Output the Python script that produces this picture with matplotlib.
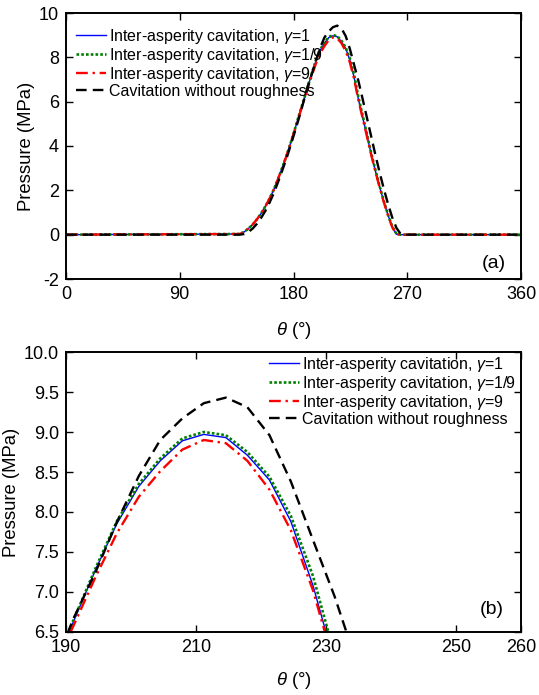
import matplotlib
matplotlib.use("Agg")
import matplotlib.pyplot as plt
from matplotlib.ticker import FormatStrFormatter

plt.rcParams['font.family'] = ['Liberation Sans', 'DejaVu Sans']
plt.rcParams['mathtext.fontset'] = 'custom'
plt.rcParams['mathtext.rm'] = 'Liberation Sans'
plt.rcParams['mathtext.it'] = 'Liberation Sans:italic'
plt.rcParams['axes.unicode_minus'] = False

# ---- data ----
theta = [0, 137.5, 140.9, 144.2, 147.6, 150.9, 154.3, 157.6, 161.0, 164.3, 167.7,
         171.0, 174.4, 177.7, 181.1, 184.4, 187.8, 191.1, 194.5, 197.8, 201.2,
         204.5, 207.9, 211.2, 214.6, 217.9, 221.3, 224.6, 228.0, 231.3, 234.7,
         238.0, 241.4, 244.7, 248.1, 251.4, 254.8, 258.1, 261.5, 264.8, 268.2, 360]

p_gamma1 = [0, 0.03, 0.12, 0.27, 0.45, 0.68, 0.95, 1.26, 1.62, 2.02, 2.50,
            3.00, 3.55, 4.13, 4.75, 5.38, 6.00, 6.62, 7.27, 7.85, 8.32,
            8.64, 8.89, 8.97, 8.93, 8.71, 8.40, 7.88, 7.08, 6.12, 5.30,
            4.50, 3.65, 2.90, 2.17, 1.50, 0.88, 0.35, 0.02, 0, 0, 0]

p_gamma1_9 = [0, 0.03, 0.12, 0.27, 0.45, 0.68, 0.95, 1.26, 1.62, 2.02, 2.50,
              3.00, 3.55, 4.13, 4.76, 5.40, 6.02, 6.64, 7.29, 7.88, 8.35,
              8.67, 8.92, 9.00, 8.96, 8.75, 8.44, 7.95, 7.20, 6.22, 5.38,
              4.56, 3.70, 2.94, 2.20, 1.52, 0.90, 0.37, 0.03, 0, 0, 0]

p_gamma9 = [0, 0.03, 0.12, 0.27, 0.45, 0.68, 0.95, 1.26, 1.62, 2.02, 2.50,
            3.00, 3.55, 4.12, 4.73, 5.35, 5.98, 6.57, 7.18, 7.73, 8.19,
            8.51, 8.78, 8.90, 8.86, 8.64, 8.28, 7.77, 7.02, 6.08, 5.26,
            4.46, 3.62, 2.87, 2.14, 1.48, 0.86, 0.34, 0.02, 0, 0, 0]

p_smooth = [0, 0, 0.03, 0.12, 0.27, 0.48, 0.75, 1.06, 1.44, 1.86, 2.36,
            2.88, 3.43, 4.02, 4.65, 5.28, 5.97, 6.66, 7.24, 7.87, 8.45,
            8.90, 9.17, 9.36, 9.43, 9.31, 8.96, 8.38, 7.65, 6.95, 6.12,
            5.30, 4.45, 3.62, 2.82, 2.08, 1.38, 0.78, 0.30, 0.03, 0, 0]

labels = ["Inter-asperity cavitation, $\\gamma$=1",
          "Inter-asperity cavitation, $\\gamma$=1/9",
          "Inter-asperity cavitation, $\\gamma$=9",
          "Cavitation without roughness"]

xticks_a = [0, 90, 180, 270, 360]
yticks_a = [-2, 0, 2, 4, 6, 8, 10]
xticks_b = [190, 210, 230, 250, 260]
yticks_b = [6.5, 7.0, 7.5, 8.0, 8.5, 9.0, 9.5, 10.0]

# ---- figure ----
W, H = 539, 695
fig = plt.figure(figsize=(W / 100, H / 100), dpi=100)

def px_axes(l, t, r, b):
    return fig.add_axes([l / W, 1 - b / H, (r - l) / W, (b - t) / H])

ax1 = px_axes(66, 13, 521, 279)
ax2 = px_axes(66, 352, 521, 632)

def draw(ax):
    ax.plot(theta, p_gamma1, color='#0000FF', lw=1.0, label=labels[0])
    ax.plot(theta, p_gamma1_9, color='#008000', lw=1.9, dashes=(1, 0.8), label=labels[1])
    ax.plot(theta, p_gamma9, color='#FF0000', lw=1.7, dashes=(5, 2, 1, 2), label=labels[2])
    ax.plot(theta, p_smooth, color='black', lw=1.7, dashes=(4.5, 2.6), label=labels[3])

leg_kw = dict(frameon=False, fontsize=11.5, handlelength=1.85,
              handletextpad=0.2, labelspacing=0.0, borderaxespad=0.0,
              borderpad=0.0)

for ax in (ax1, ax2):
    draw(ax)
    ax.tick_params(direction='in', top=True, right=True, length=5, width=1,
                   labelsize=13, pad=5)
    for s in ax.spines.values():
        s.set_linewidth(1.4)
    ax.set_ylabel("Pressure (MPa)", fontsize=13.3, labelpad=3)

ax1.set_xlabel("$\\theta$ (°)", fontsize=13.3, labelpad=12)
ax2.set_xlabel("$\\theta$ (°)", fontsize=13.3, labelpad=10)

ax1.set_xlim(0, 360)
ax1.set_ylim(-2, 10)
ax1.set_xticks(xticks_a)
ax1.set_yticks(yticks_a)
ax1.legend(loc='upper left', bbox_to_anchor=(10 / 455, 1 - 14 / 266), **leg_kw)
ax1.text(0.94, 0.06, "(a)", transform=ax1.transAxes, fontsize=14,
         ha='center', va='center')

ax2.set_xlim(190, 260)
ax2.set_ylim(6.5, 10.0)
ax2.set_xticks(xticks_b)
ax2.set_yticks(yticks_b)
ax2.yaxis.set_major_formatter(FormatStrFormatter('%.1f'))
ax2.legend(loc='upper right', bbox_to_anchor=(1 - 5 / 455, 1 - 3 / 280), **leg_kw)
ax2.text(0.935, 0.082, "(b)", transform=ax2.transAxes, fontsize=14,
         ha='center', va='center')

fig.savefig("out.png", dpi=100)
